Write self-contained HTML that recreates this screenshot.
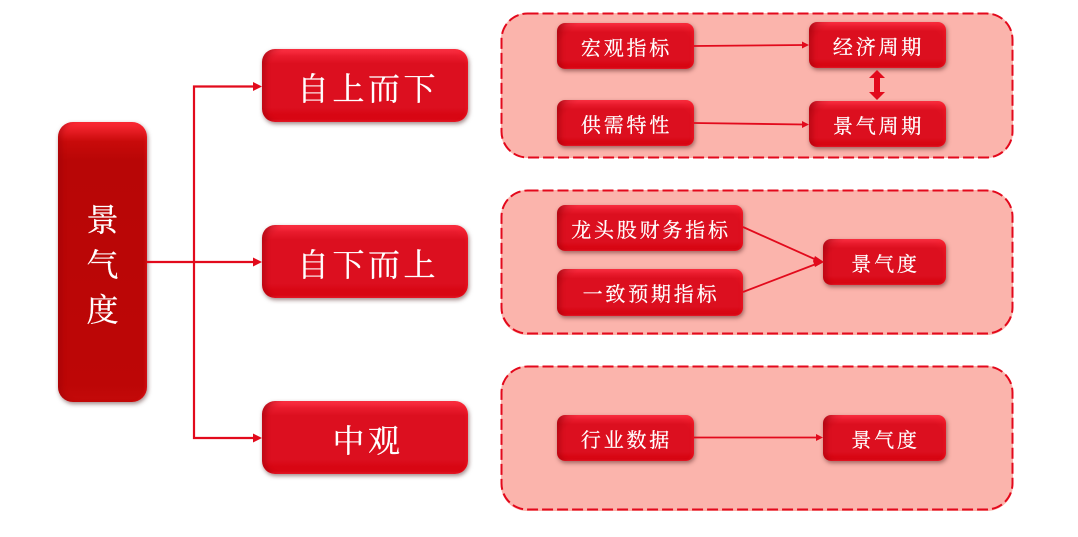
<!DOCTYPE html>
<html lang="zh"><head><meta charset="utf-8"><title>景气度</title>
<style>
html,body{margin:0;padding:0;background:#fff}
#c{position:relative;width:1078px;height:537px;overflow:hidden;background:#fff;font-family:"Liberation Serif","Noto Serif CJK SC",serif}
.p{position:absolute;box-sizing:border-box;left:501px;width:512px;height:145px;border-radius:26px;background:#fbb4ac}
.b{position:absolute;box-sizing:border-box;display:flex;align-items:center;justify-content:center;color:#fff;white-space:nowrap;border-radius:8px;-webkit-text-stroke:.25px #fff;
background:linear-gradient(135deg,rgba(140,0,10,.45) 0,rgba(140,0,10,.12) 10px,rgba(140,0,10,0) 16px),linear-gradient(225deg,rgba(255,40,50,.35) 0,rgba(255,40,50,0) 14px),linear-gradient(180deg,#ff3346 0,#ea1c2e 9%,#dc0f1f 20%,#dc0f1f 80%,#d80613 90%,#d80613 96%,#e81a2a 100%);
box-shadow:1px 2px 4px rgba(70,20,20,.5),inset 6px 0 5px -2px rgba(150,0,10,.4),inset -3px 0 3px -2px rgba(255,30,40,.5)}
.s{font-size:20px;letter-spacing:2.8px;height:46px;width:137px;padding:0 0 0 2px}
.m{font-size:32px;letter-spacing:3.500px;left:262px;width:206px;height:73px;border-radius:13px;padding:2px 0 0 6px}
svg{position:absolute;left:0;top:0}
</style></head><body><div id="c">
<div class="p" style="top:13px"></div>
<div class="p" style="top:190px"></div>
<div class="p" style="top:366px"></div>
<div class="b" style="left:58px;top:122px;width:89px;height:280px;border-radius:15px;font-size:32px;line-height:45px;text-align:center;white-space:normal;padding:6px 28px 0;background:linear-gradient(180deg,#ff2c38 0,#c80a0a 7%,#b80606 14%,#bd0606 94%,#c40a0a 100%)"><span>景气度</span></div>
<div class="b m" style="top:49px">自上而下</div>
<div class="b m" style="top:225px">自下而上</div>
<div class="b m" style="top:401px">中观</div>
<div class="b s" style="left:557px;top:23px">宏观指标</div>
<div class="b s" style="left:809px;top:22px">经济周期</div>
<div class="b s" style="left:557px;top:100px">供需特性</div>
<div class="b s" style="left:809px;top:101px">景气周期</div>
<div class="b s" style="left:557px;top:205px;width:186px">龙头股财务指标</div>
<div class="b s" style="left:557px;top:269px;width:186px;height:47px">一致预期指标</div>
<div class="b s" style="left:823px;top:239px;width:123px">景气度</div>
<div class="b s" style="left:557px;top:415px">行业数据</div>
<div class="b s" style="left:823px;top:415px;width:123px">景气度</div>
<svg width="1078" height="537" viewBox="0 0 1078 537" fill="none">
<g stroke="#e3091c" stroke-width="2" stroke-dasharray="11 4">
<rect x="501.500" y="13.500" width="511" height="144" rx="26"/>
<rect x="501.500" y="190.500" width="511" height="143" rx="26"/>
<rect x="501.500" y="366.500" width="511" height="143" rx="26"/>
</g>
<g stroke="#e20a1c" stroke-width="2.200">
<path d="M147 262H256M194 262V86.500H256M194 262V438H256"/>
</g>
<g fill="#e20a1c">
<path d="M253 82l9 4.500-9 4.500zM253 257.500l9 4.500-9 4.500zM253 433.500l9 4.500-9 4.500z"/>
</g>
<g stroke="#e20a1c" stroke-width="1.800">
<path d="M694 46L804 45M694 123L804 124.500M743 227L820 261.500M743 292L820 262.500M694 437.500H818"/>
</g>
<g fill="#e20a1c">
<path d="M809 45l-7-3.500v7zM809 124.500l-7-3.500v7zM824 262l-9-6-2 5 2 6zM823 437.500l-7-3.500v7z"/>
<path d="M877 70l8 8h-5v14h5l-8 8-8-8h5v-14h-5z"/>
</g>
</svg>
</div></body></html>
